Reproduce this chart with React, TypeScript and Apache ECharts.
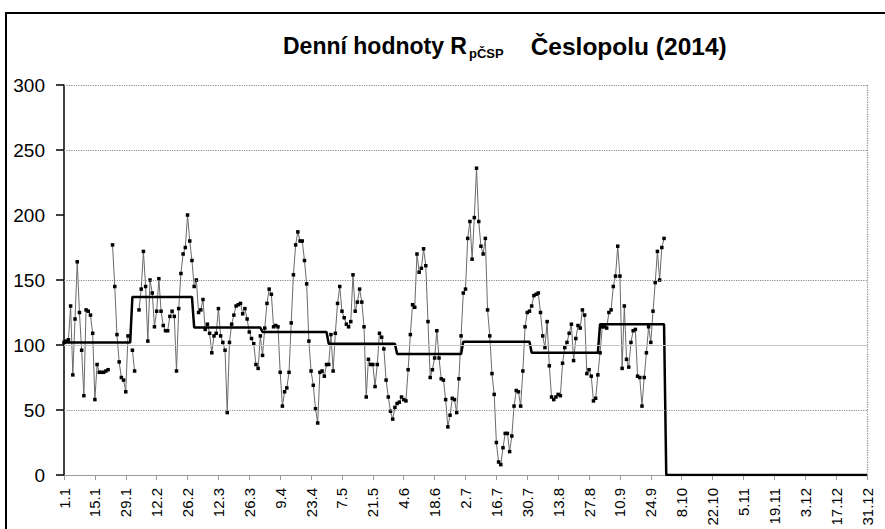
import { useEffect, useRef } from "react";
import * as echarts from "echarts";

// Daily values R_pČSP (2014); null = missing day
const jan = [102, 103, 104, 130, 77, 120, 164, 125, 96, 61, 127, 126, 123, 109, 58, 85, 79, 79, 79, 80, 81, null, 177, 145, 108, 87, 75, 73, 64, 107, null];
const feb = [96, 80, null, 127, 143, 172, 145, 103, 150, 140, 114, 126, 151, 126, 115, 111, 111, 122, 126, 122, 80, 128, 155, 170, 175, 200, 180, 165];
const mar = [145, 150, 125, 127, 135, 112, 116, 109, 94, 107, 109, 128, 107, 102, 96, 48, 102, 116, 123, 130, 131, 132, 124, 128, 120, 110, 105, 101, 85, 82, 107];
const apr = [92, 113, 132, 143, 139, 114, 115, 114, 79, 53, 64, 67, 79, 117, 154, 177, 187, 180, 180, 165, 147, 103, 80, 69, 51, 40, 79, 80, 76, 85];
const may = [85, 108, 80, 109, 132, 145, 126, 121, 116, 114, 118, 154, 126, 133, 143, 133, 114, 60, 89, 85, 85, 68, 85, 109, 106, 97, 73, 60, 49, 43, 52];
const jun = [55, 56, 60, 58, 57, 81, 108, 131, 129, 170, 156, 159, 174, 161, 118, 75, 81, 90, 111, 90, 74, 73, 58, 37, 46, 59, 58, 48, 74, 107];
const jul = [140, 143, 182, 195, 166, 198, 236, 195, 176, 170, 182, 127, 107, 78, 62, 25, 10, 8, 21, 32, 32, 18, 30, 53, 65, 64, 53, 80, 114, 125, 126];
const aug = [130, 138, 139, 140, 125, 107, 98, 118, 84, 60, 58, 60, 62, 61, 86, 98, 102, 109, 116, 88, 105, 115, 113, 127, 123, 78, 81, 76, 57, 59, 77];
const sep = [94, 114, 114, 113, 125, 127, 145, 153, 176, 153, 82, 130, 89, 83, 102, 111, 112, 76, 75, 53, 75, 94, 114, 102, 126, 148, 172, 150, 175, 182];

// Monthly means (step line)
const monthlyMeans = [102, 137, 113.5, 110, 101, 93, 102.5, 94, 116, 0, 0, 0];
const daysInMonth = [31, 28, 31, 30, 31, 30, 31, 31, 30, 31, 30, 31];

// x-axis tick labels (every 14 days)
const tickLabels = ["1.1", "15.1", "29.1", "12.2", "26.2", "12.3", "26.3", "9.4", "23.4", "7.5", "21.5", "4.6", "18.6", "2.7", "16.7", "30.7", "13.8", "27.8", "10.9", "24.9", "8.10", "22.10", "5.11", "19.11", "3.12", "17.12", "31.12"];

const dottedGridValues = [50, 150, 250, 300];
const solidGridValues = [100];

export default function App() {
  const ref = useRef<HTMLDivElement>(null);

  useEffect(() => {
    if (!ref.current) return;
    const chart = echarts.init(ref.current, null, { renderer: "svg" });

    const daily: (number | null)[] = [...jan, ...feb, ...mar, ...apr, ...may, ...jun, ...jul, ...aug, ...sep];
    const totalDays = daysInMonth.reduce((a, b) => a + b, 0);
    while (daily.length < totalDays) daily.push(null);

    const step: number[] = [];
    monthlyMeans.forEach((m, i) => {
      for (let k = 0; k < daysInMonth[i]; k++) step.push(m);
    });

    const categories = daily.map((_, i) => String(i));
    const font = 'Arial, "Liberation Sans", sans-serif';

    const markData: any[] = [
      ...dottedGridValues.map((v) => ({
        yAxis: v,
        lineStyle: { type: "dotted", color: "#8a8a8a", width: 1.2 },
      })),
      ...solidGridValues.map((v) => ({
        yAxis: v,
        lineStyle: { type: "solid", color: "#c4c4c4", width: 1 },
      })),
      {
        xAxis: categories[categories.length - 1],
        lineStyle: { type: "dotted", color: "#8a8a8a", width: 1.2 },
      },
    ];

    chart.setOption({
      animation: false,
      backgroundColor: "#ffffff",
      title: {
        left: 278,
        top: 27,
        text: "{a|Denní hodnoty R}{b|pČSP}{c|Česlopolu (2014)}",
        textStyle: {
          rich: {
            a: { fontFamily: font, fontSize: 23, fontWeight: "bold", color: "#000", lineHeight: 28 },
            b: {
              fontFamily: font,
              fontSize: 13,
              fontWeight: "bold",
              color: "#000",
              lineHeight: 14,
              verticalAlign: "bottom",
              padding: [0, 27, 0, 2],
            },
            c: { fontFamily: font, fontSize: 24.5, fontWeight: "bold", color: "#000", lineHeight: 28 },
          },
        },
      },
      graphic: [
        {
          type: "rect",
          silent: true,
          z: -1,
          shape: { x: 6, y: 13, width: 920, height: 600 },
          style: { fill: "none", stroke: "#000", lineWidth: 2 },
        },
      ],
      grid: { left: 64, right: 18, top: 85, bottom: 54, containLabel: false },
      xAxis: {
        type: "category",
        data: categories,
        boundaryGap: false,
        axisLine: { show: true, lineStyle: { color: "#9a9a9a", width: 1 } },
        axisTick: { show: true, interval: 13, length: 5, lineStyle: { color: "#9a9a9a" } },
        axisLabel: {
          interval: 13,
          rotate: 90,
          margin: 13,
          fontFamily: font,
          fontSize: 15,
          color: "#000",
          formatter: (_v: string, idx: number) => (idx % 14 === 0 ? tickLabels[idx / 14] ?? "" : ""),
        },
        splitLine: { show: false },
      },
      yAxis: {
        type: "value",
        min: 0,
        max: 300,
        interval: 50,
        axisLine: { show: true, lineStyle: { color: "#000", width: 1.5 } },
        axisTick: { show: true, length: 8, lineStyle: { color: "#000", width: 1.5 } },
        axisLabel: { fontFamily: font, fontSize: 19, color: "#000", margin: 19 },
        splitLine: { show: false },
      },
      series: [
        {
          name: "grid",
          type: "line",
          data: categories.map(() => null),
          silent: true,
          z: 1,
          symbol: "none",
          markLine: {
            silent: true,
            symbol: "none",
            label: { show: false },
            animation: false,
            data: markData,
          },
        },
        {
          name: "denní",
          type: "line",
          data: daily,
          z: 3,
          connectNulls: false,
          symbol: "rect",
          symbolSize: 3.5,
          showSymbol: true,
          showAllSymbol: true,
          itemStyle: { color: "#000" },
          lineStyle: { color: "#6a6a6a", width: 1 },
        },
        {
          name: "měsíční",
          type: "line",
          data: step,
          z: 4,
          symbol: "none",
          lineStyle: { color: "#000", width: 2.5 },
        },
      ],
    });

    return () => chart.dispose();
  }, []);

  return (
    <div
      ref={ref}
      style={{ position: "fixed", left: 0, top: 0, width: 885, height: 529, background: "#fff" }}
    />
  );
}
